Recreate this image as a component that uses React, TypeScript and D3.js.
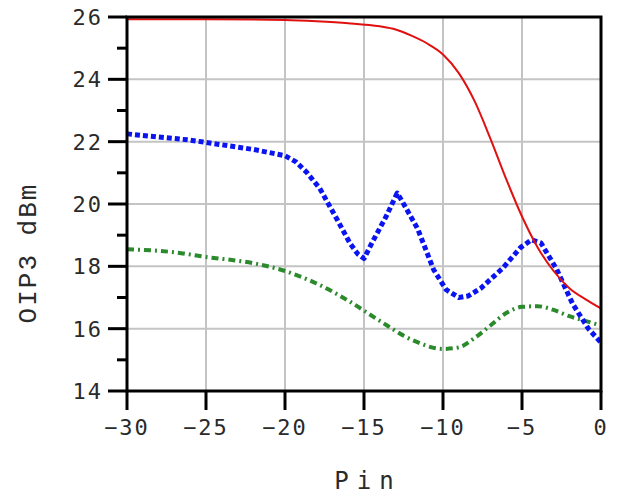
import React, { useEffect, useRef } from 'react';
import * as d3 from 'd3';

// Pin (dBm) samples for each trace
const redPin = [-30, -25, -20, -18, -16, -14, -13, -12, -11, -10, -9, -8, -7, -6, -5, -4, -3, -2, -1, 0];
const redOip3 = [25.93, 25.93, 25.9, 25.86, 25.8, 25.7, 25.6, 25.4, 25.15, 24.8, 24.2, 23.3, 22.1, 20.8, 19.6, 18.6, 17.85, 17.3, 16.95, 16.65];

const bluePin = [-30, -28, -26, -24, -22, -20, -19.3, -18.6, -17.8, -16.7, -15.9, -15.4, -15, -14.5, -13.6, -12.9, -12.6, -11.6, -10.6, -9.8, -9, -8.4, -7.6, -6.2, -5.1, -4.4, -3.8, -2.8, -1.8, -0.8, 0];
const blueOip3 = [22.25, 22.15, 22.05, 21.9, 21.75, 21.55, 21.35, 21.0, 20.5, 19.5, 18.75, 18.4, 18.25, 18.75, 19.6, 20.35, 20.1, 19.2, 17.9, 17.25, 17.0, 17.05, 17.3, 17.95, 18.6, 18.85, 18.75, 17.9, 16.8, 16.0, 15.55];

const greenPin = [-30, -27, -25, -22, -20, -18, -16, -14, -12, -10, -9, -8, -7, -6, -5, -4, -3, -2, -1, 0];
const greenOip3 = [18.55, 18.45, 18.3, 18.1, 17.85, 17.45, 16.9, 16.25, 15.65, 15.35, 15.4, 15.7, 16.1, 16.5, 16.7, 16.72, 16.6, 16.4, 16.25, 16.1];

const xTicks = [-30, -25, -20, -15, -10, -5, 0];
const yTicks = [14, 16, 18, 20, 22, 24, 26];
const yMinorTicks = [15, 17, 19, 21, 23, 25];

const W = 623;
const H = 496;
const left = 127, right = 601, top = 17, bottom = 391;
const font = '"DejaVu Sans Mono", monospace';

export default function App() {
  const ref = useRef<SVGSVGElement>(null);

  useEffect(() => {
    const svg = d3.select(ref.current);
    svg.selectAll('*').remove();

    const x = d3.scaleLinear().domain([-30, 0]).range([left, right]);
    const y = d3.scaleLinear().domain([14, 26]).range([bottom, top]);

    const g = svg.append('g');

    // grid
    g.selectAll('line.gx').data(xTicks.slice(1, -1)).enter().append('line')
      .attr('x1', d => x(d)).attr('x2', d => x(d))
      .attr('y1', top).attr('y2', bottom)
      .attr('stroke', '#c4c4c4').attr('stroke-width', 2);
    g.selectAll('line.gy').data(yTicks.slice(1, -1)).enter().append('line')
      .attr('x1', left).attr('x2', right)
      .attr('y1', d => y(d)).attr('y2', d => y(d))
      .attr('stroke', '#c4c4c4').attr('stroke-width', 2);

    const series = [
      { xs: greenPin, ys: greenOip3, color: '#2b8a2b', width: 4, dash: '7,4,2,4', curve: d3.curveMonotoneX },
      { xs: bluePin, ys: blueOip3, color: '#0a14f0', width: 5, dash: '5,3', curve: d3.curveLinear },
      { xs: redPin, ys: redOip3, color: '#e01010', width: 2, dash: null, curve: d3.curveMonotoneX },
    ];

    series.forEach(s => {
      const line = d3.line<[number, number]>()
        .x(d => x(d[0]))
        .y(d => y(d[1]))
        .curve(s.curve);
      const pts = s.xs.map((v, i) => [v, s.ys[i]] as [number, number]);
      g.append('path')
        .attr('d', line(pts))
        .attr('fill', 'none')
        .attr('stroke', s.color)
        .attr('stroke-width', s.width)
        .attr('stroke-linejoin', 'round')
        .attr('stroke-dasharray', s.dash)
    });

    // frame
    g.append('rect')
      .attr('x', left).attr('y', top)
      .attr('width', right - left).attr('height', bottom - top)
      .attr('fill', 'none').attr('stroke', 'black').attr('stroke-width', 3);

    // y ticks
    g.selectAll('line.ty').data(yTicks).enter().append('line')
      .attr('x1', left - 19).attr('x2', left)
      .attr('y1', d => y(d)).attr('y2', d => y(d))
      .attr('stroke', 'black').attr('stroke-width', 3);
    g.selectAll('line.tym').data(yMinorTicks).enter().append('line')
      .attr('x1', left - 10).attr('x2', left)
      .attr('y1', d => y(d)).attr('y2', d => y(d))
      .attr('stroke', 'black').attr('stroke-width', 3);
    g.selectAll('text.ly').data(yTicks).enter().append('text')
      .attr('x', left - 24).attr('y', d => y(d) + 8)
      .attr('text-anchor', 'end')
      .attr('font-family', font).attr('font-size', 22)
      .attr('letter-spacing', 2)
      .attr('fill', '#2a2a2a')
      .text(d => d);

    // x ticks
    g.selectAll('line.tx').data(xTicks).enter().append('line')
      .attr('x1', d => x(d)).attr('x2', d => x(d))
      .attr('y1', bottom).attr('y2', bottom + 19)
      .attr('stroke', 'black').attr('stroke-width', 3);
    g.selectAll('text.lx').data(xTicks).enter().append('text')
      .attr('x', d => x(d)).attr('y', 435)
      .attr('text-anchor', 'middle')
      .attr('font-family', font).attr('font-size', 22)
      .attr('letter-spacing', 2)
      .attr('fill', '#2a2a2a')
      .text(d => (d < 0 ? '\u2212' + Math.abs(d) : String(d)));

    // axis titles
    svg.append('text')
      .attr('x', 368).attr('y', 489)
      .attr('text-anchor', 'middle')
      .attr('font-family', font).attr('font-size', 24)
      .attr('letter-spacing', 8)
      .attr('fill', '#2a2a2a')
      .text('Pin');
    svg.append('text')
      .attr('transform', 'translate(36,253) rotate(-90)')
      .attr('text-anchor', 'middle')
      .attr('font-family', '"Liberation Mono", "Courier New", monospace')
      .attr('font-size', 26)
      .attr('letter-spacing', 2)
      .attr('fill', '#2a2a2a')
      .text('OIP3 dBm');
  }, []);

  return (
    <svg ref={ref} width={W} height={H}
      style={{ position: 'absolute', left: 0, top: 0, background: 'white' }} />
  );
}
